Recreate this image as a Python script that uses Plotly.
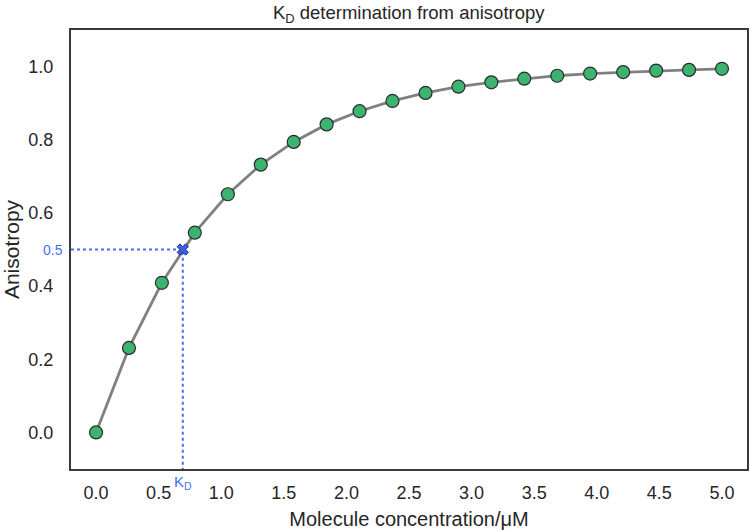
import plotly.graph_objects as go

concentration = [0.0, 0.263, 0.526, 0.789, 1.053, 1.316, 1.579, 1.842, 2.105, 2.368,
                 2.632, 2.895, 3.158, 3.421, 3.684, 3.947, 4.211, 4.474, 4.737, 5.0]
anisotropy = [0.0, 0.231, 0.409, 0.546, 0.651, 0.732, 0.794, 0.842, 0.878, 0.906,
              0.928, 0.945, 0.957, 0.967, 0.975, 0.981, 0.985, 0.989, 0.991, 0.994]
kd_x = 0.693
kd_y = 0.5
x_ticks = [0.0, 0.5, 1.0, 1.5, 2.0, 2.5, 3.0, 3.5, 4.0, 4.5, 5.0]
y_ticks = [0.0, 0.2, 0.4, 0.6, 0.8, 1.0]

blue = "#4a6ff0"
font = "Liberation Sans, Arial, sans-serif"
text_color = "#262626"

fig = go.Figure()
fig.add_trace(go.Scatter(x=concentration, y=anisotropy, mode="lines",
                         line=dict(color="#808080", width=2.8), hoverinfo="skip",
                         showlegend=False))
fig.add_trace(go.Scatter(x=[-0.2, kd_x, kd_x], y=[kd_y, kd_y, -0.1], mode="lines",
                         line=dict(color=blue, width=2, dash="dot"), showlegend=False))
fig.add_trace(go.Scatter(x=concentration, y=anisotropy, mode="markers",
                         marker=dict(color="#3cb371", size=13,
                                     line=dict(color="#2b2b2b", width=1.2)),
                         showlegend=False))
fig.add_trace(go.Scatter(x=[kd_x], y=[kd_y], mode="markers",
                         marker=dict(symbol="x", color="#3a5fe0", size=10,
                                     line=dict(color="#1c2f80", width=1)),
                         showlegend=False))

fig.add_annotation(x=0, xref="paper", y=kd_y, yref="y", text="0.5", showarrow=False,
                   xanchor="right", xshift=-6, font=dict(color=blue, size=14, family=font))
fig.add_annotation(x=kd_x, xref="x", y=0, yref="paper", text="K<sub>D</sub>", showarrow=False,
                   yanchor="top", yshift=-2, font=dict(color=blue, size=15, family=font))

axis_common = dict(showline=True, mirror=True, linecolor="#3a3a3a", linewidth=2,
                   showgrid=False, zeroline=False, ticks="", automargin=False,
                   tickfont=dict(size=18, color=text_color, family=font))
fig.update_xaxes(range=[-0.2, 5.2], tickvals=x_ticks, ticktext=[f"{v:.1f}" for v in x_ticks],
                 title=dict(text="Molecule concentration/μM", font=dict(size=20, color=text_color, family=font), standoff=14),
                 ticklabelstandoff=6, **axis_common)
fig.update_yaxes(range=[-0.1, 1.1], tickvals=y_ticks, ticktext=[f"{v:.1f}" for v in y_ticks],
                 title=dict(text="Anisotropy", font=dict(size=21, color=text_color, family=font), standoff=10),
                 ticklabelstandoff=12, **axis_common)

fig.update_layout(width=750, height=530, margin=dict(l=71, r=3, t=30, b=61),
                  plot_bgcolor="white", paper_bgcolor="white",
                  title=dict(text="K<sub>D</sub> determination from anisotropy", x=0.545, xanchor="center",
                             y=0.977, yanchor="middle", font=dict(size=18.5, color=text_color, family=font)),
                  font=dict(family=font))
fig.write_html("out.html", config={"displayModeBar": False},
               post_script="document.body.style.margin='0';")
